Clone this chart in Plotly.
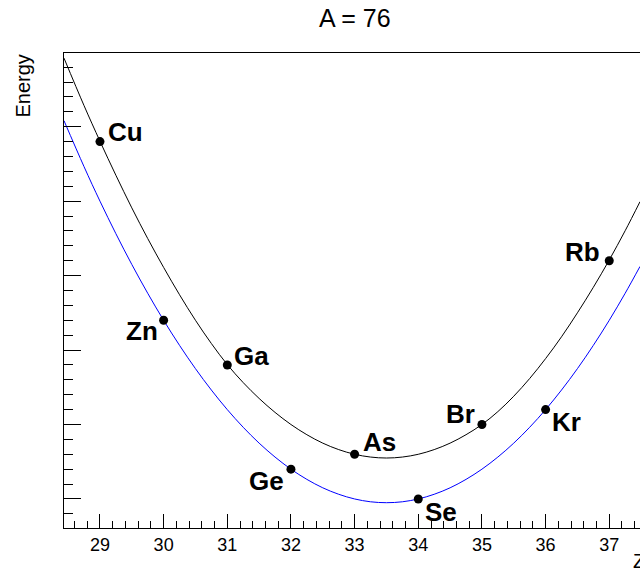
import plotly.graph_objects as go

# ---- data ----
title_text = "A = 76"
x_title = "Z"
y_title = "Energy"

odd_z = [29, 31, 33, 35, 37]
odd_e = [48.0, 18.0, 6.0, 10.0, 32.0]
odd_names = ["Cu", "Ga", "As", "Br", "Rb"]

even_z = [30, 32, 34, 36]
even_e = [24.0, 4.0, 0.0, 12.0]
even_names = ["Zn", "Ge", "Se", "Kr"]

curve_z = [28.435, 28.75, 29.0, 29.25, 29.5, 29.75, 30.0, 30.25, 30.5, 30.75,
           31.0, 31.25, 31.5, 31.75, 32.0, 32.25, 32.5, 32.75, 33.0, 33.25,
           33.5, 33.75, 34.0, 34.25, 34.5, 34.75, 35.0, 35.25, 35.5, 35.75,
           36.0, 36.25, 36.5, 36.75, 37.0, 37.25, 37.483]
odd_curve = [59.21, 52.83, 48.05, 43.48, 39.1, 34.98, 31.1, 27.43, 24.0, 20.88,
             18.05, 15.63, 13.5, 11.63, 10.0, 8.63, 7.5, 6.63, 6.0, 5.63,
             5.5, 5.63, 6.0, 6.63, 7.5, 8.63, 10.0, 11.73, 13.8, 16.18,
             18.85, 21.78, 25.0, 28.43, 32.1, 36.03, 39.93]
even_curve = [50.81, 44.63, 40.0, 35.63, 31.5, 27.63, 24.0, 20.63, 17.5, 14.63,
              12.0, 9.63, 7.5, 5.63, 4.0, 2.63, 1.5, 0.63, 0.0, -0.38,
              -0.5, -0.38, 0.0, 0.63, 1.5, 2.63, 4.0, 5.63, 7.5, 9.63,
              12.0, 14.63, 17.5, 20.63, 24.0, 27.63, 31.23]

x_tickvals = [29, 30, 31, 32, 33, 34, 35, 36, 37]

# ---- label placement (style) ----
label_place = {
    "Cu": ("left", 6, -9.6),
    "Ga": ("left", 5, -8.7),
    "As": ("left", 6, -12.3),
    "Br": ("right", -5, -10.3),
    "Rb": ("right", -7, -9.0),
    "Zn": ("right", -4, 11.2),
    "Ge": ("right", -5, 12.3),
    "Se": ("left", 5, 12.7),
    "Kr": ("left", 4, 12.0),
}

FONT = "Liberation Sans, Arial, Helvetica, sans-serif"

fig = go.Figure()
fig.add_trace(go.Scatter(x=curve_z, y=odd_curve, mode="lines",
                         line=dict(color="black", width=1, shape="spline"),
                         hoverinfo="skip", showlegend=False))
fig.add_trace(go.Scatter(x=curve_z, y=even_curve, mode="lines",
                         line=dict(color="#0000ff", width=1, shape="spline"),
                         hoverinfo="skip", showlegend=False))
fig.add_trace(go.Scatter(x=odd_z + even_z, y=odd_e + even_e, mode="markers",
                         marker=dict(color="black", size=9),
                         showlegend=False))

for z, e, name in list(zip(odd_z, odd_e, odd_names)) + list(zip(even_z, even_e, even_names)):
    anchor, dx, dy = label_place[name]
    fig.add_annotation(x=z, y=e, xref="x", yref="y", text=name, showarrow=False,
                       xanchor=anchor, yanchor="middle", xshift=dx, yshift=-dy,
                       font=dict(family=FONT, size=26, color="black", weight="bold"))

# title
fig.add_annotation(x=0.505, y=1.0747, xref="paper", yref="paper", text=title_text,
                   showarrow=False, xanchor="center", yanchor="middle",
                   font=dict(family=FONT, size=25, color="black"))
# axis titles
fig.add_annotation(x=-0.0729, y=1.0, xref="paper", yref="paper", text=y_title,
                   showarrow=False, xanchor="center", yanchor="top", textangle=-90,
                   font=dict(family=FONT, size=20, color="black"))
fig.add_annotation(x=0.9852, y=-0.042, xref="paper", yref="paper", text=x_title,
                   showarrow=False, xanchor="left", yanchor="top",
                   font=dict(family=FONT, size=20, color="black"))

fig.update_layout(
    width=640, height=572,
    margin=dict(l=64, r=0, t=53, b=44),
    plot_bgcolor="white", paper_bgcolor="white",
    font=dict(family=FONT, color="black"),
    xaxis=dict(range=[28.435, 37.483], showgrid=False, zeroline=False,
               showline=True, linecolor="black", linewidth=1, mirror=True,
               ticks="inside", ticklen=14, tickwidth=1, tickcolor="black",
               tickvals=x_tickvals, tickfont=dict(size=18, family=FONT, color="black"),
               minor=dict(ticks="inside", ticklen=7, tickwidth=1, tickcolor="black", dtick=0.2, tick0=29),
               fixedrange=True),
    yaxis=dict(range=[-3.9, 59.9], showgrid=False, zeroline=False,
               showline=True, linecolor="black", linewidth=1, mirror=False,
               ticks="inside", ticklen=17, tickwidth=1, tickcolor="black",
               dtick=10, tick0=0, showticklabels=False,
               minor=dict(ticks="inside", ticklen=8.5, tickwidth=1, tickcolor="black", dtick=2, tick0=0),
               fixedrange=True),
)

fig.write_html("out.html", config={"displayModeBar": False},
               post_script="document.body.style.margin='0';")
